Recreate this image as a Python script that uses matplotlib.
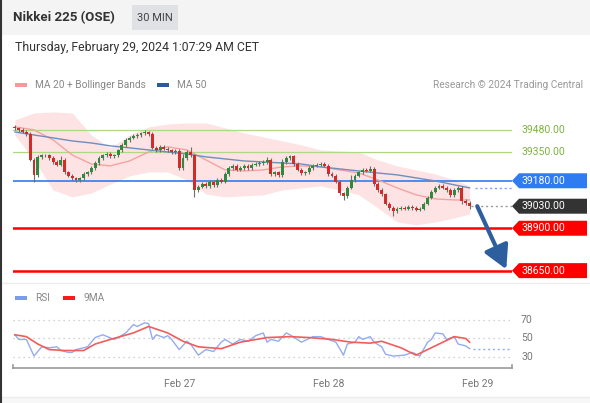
import matplotlib
matplotlib.use("Agg")
import matplotlib.pyplot as plt
from matplotlib.patches import Rectangle, Polygon
import numpy as np

plt.rcParams["font.family"] = ["Roboto", "DejaVu Sans"]

# ── Data ───────────────────────────────────────────────────────────────────────
# 30-minute closes, one per candle (open = previous close)
closes = [
    39490, 39480, 39470, 39455, 39305, 39215, 39320, 39330, 39330, 39315,
    39290, 39275, 39305, 39230, 39210, 39195, 39185, 39195, 39220, 39230,
    39255, 39285, 39315, 39330, 39340, 39325, 39330, 39360, 39390, 39420,
    39435, 39445, 39450, 39460, 39465, 39455, 39375, 39360, 39380, 39370,
    39360, 39350, 39355, 39255, 39315, 39350, 39330, 39125, 39145, 39160,
    39150, 39175, 39155, 39185, 39175, 39220, 39255, 39270, 39245, 39255,
    39270, 39255, 39275, 39280, 39285, 39290, 39305, 39220, 39230, 39215,
    39290, 39315, 39325, 39280, 39245, 39225, 39230, 39255, 39270, 39275,
    39280, 39270, 39220, 39210, 39175, 39105, 39090, 39140, 39185, 39210,
    39230, 39245, 39240, 39250, 39160, 39125, 39100, 39045, 39020, 39000,
    39015, 39020, 39015, 39025, 39020, 39010, 39015, 39045, 39080, 39115,
    39140, 39150, 39140, 39125, 39095, 39125, 39140, 39060, 39050, 39030,
]
first_open = 39500
up_wick = [
    10, 10, 10, 10, 10, 10, 15, 10, 10, 10,
    10, 10, 20, 10, 10, 10, 10, 10, 10, 10,
    10, 10, 10, 10, 10, 10, 10, 10, 15, 10,
    10, 10, 10, 10, 15, 10, 10, 10, 10, 10,
    10, 10, 10, 10, 25, 10, 30, 10, 10, 10,
    10, 10, 10, 10, 10, 10, 10, 10, 10, 10,
    10, 10, 10, 10, 10, 10, 15, 10, 10, 10,
    20, 10, 10, 10, 10, 10, 10, 10, 10, 10,
    10, 10, 10, 10, 10, 10, 10, 10, 30, 10,
    10, 10, 10, 20, 10, 10, 10, 10, 10, 10,
    10, 10, 10, 10, 10, 10, 10, 10, 10, 10,
    10, 10, 10, 10, 10, 10, 10, 10, 10, 10,
]
dn_wick = [
    10, 10, 10, 10, 10, 40, 10, 10, 10, 10,
    10, 10, 10, 10, 10, 10, 15, 10, 10, 10,
    10, 10, 10, 10, 10, 10, 10, 10, 10, 10,
    10, 10, 10, 10, 10, 10, 10, 10, 10, 10,
    10, 10, 10, 10, 10, 10, 10, 40, 10, 10,
    10, 10, 10, 10, 10, 10, 10, 10, 10, 10,
    10, 10, 10, 10, 10, 10, 10, 10, 10, 10,
    10, 10, 10, 10, 10, 10, 10, 10, 10, 10,
    10, 10, 10, 10, 10, 10, 25, 10, 10, 10,
    10, 10, 10, 10, 10, 10, 10, 10, 10, 25,
    10, 10, 10, 10, 10, 10, 10, 10, 10, 10,
    10, 10, 10, 10, 10, 10, 10, 15, 15, 15,
]

# indicator readings, sampled every 5 candles
ind_idx = [0, 5, 10, 15, 20, 25, 30, 35, 40, 45, 50, 55, 60, 65, 70, 75, 80,
           85, 90, 95, 100, 105, 110, 115, 119]
ma50 = [39468, 39450, 39433, 39415, 39403, 39386, 39374, 39362, 39350, 39338,
        39321, 39309, 39297, 39291, 39285, 39279, 39262, 39250, 39238, 39226,
        39215, 39197, 39179, 39156, 39138]
ma20 = [39498, 39480, 39421, 39332, 39279, 39268, 39297, 39350, 39380, 39362,
        39303, 39244, 39238, 39244, 39262, 39268, 39262, 39244, 39226, 39185,
        39138, 39097, 39073, 39067, 39067]
bb_upper = [39539, 39580, 39586, 39580, 39450, 39374, 39450, 39498, 39515, 39521,
            39521, 39492, 39462, 39439, 39415, 39391, 39362, 39356, 39350, 39303,
            39268, 39244, 39220, 39185, 39150]
bb_lower = [39450, 39303, 39126, 39085, 39108, 39161, 39209, 39232, 39232, 39185,
            39102, 39085, 39091, 39097, 39126, 39138, 39150, 39126, 39097, 39020,
            38937, 38920, 38937, 38961, 38984]

# key levels
res_levels = [39480, 39350]
pivot = 39180
last_price = 39030
sup_levels = [38900, 38650]

# RSI readings
rsi_idx = [0, 1, 3, 5, 7, 9, 11, 12, 14, 15, 16, 19, 21, 23, 26, 27, 29, 31, 32,
           34, 35, 36, 37, 39, 40, 41, 43, 45, 46, 48, 50, 52, 54, 55, 57, 59,
           61, 63, 65, 66, 67, 69, 71, 72, 75, 78, 80, 82, 84, 86, 87, 89, 90,
           91, 93, 94, 96, 97, 99, 102, 104, 106, 108, 109, 110, 112, 113, 115,
           116, 118, 119]
rsi = [54, 49, 49, 31, 41, 40, 41, 37, 35, 35, 38, 41, 51, 54, 49, 51, 56, 65, 63,
       67, 66, 49, 54, 51, 53, 49, 38, 47, 44, 32, 38, 36, 46, 49, 44, 49,
       47, 53, 56, 46, 49, 47, 56, 54, 46, 52, 52, 49, 46, 32, 44, 46, 52,
       49, 52, 46, 41, 33, 31, 32, 35, 31, 46, 49, 56, 55, 49, 52,
       44, 42, 39]
ma9_idx = [0, 3, 6, 9, 13, 18, 21, 25, 31, 35, 40, 44, 48, 54, 59, 66, 72, 77,
           83, 88, 93, 96, 101, 105, 109, 115, 118, 119]
ma9 = [54, 52, 44, 38, 37, 37, 44, 49, 56, 63, 56, 47, 41, 39, 46, 51, 52, 51,
       49, 46, 45, 47, 40, 32, 40, 52, 50, 46]
rsi_levels = [70, 50, 30]

tick_pos = [43, 82, 121]
tick_labels = ["Feb 27", "Feb 28", "Feb 29"]

# ── Figure ─────────────────────────────────────────────────────────────────────
W, H = 590, 403
fig = plt.figure(figsize=(W / 100, H / 100), dpi=100)
fig.patch.set_facecolor("white")

def px_axes(x0, y0, x1, y1, **kw):
    """Axes from pixel box (top-left origin)."""
    return fig.add_axes([x0 / W, 1 - y1 / H, (x1 - x0) / W, (y1 - y0) / H], **kw)

# overlay in pixel coords for chrome
ov = fig.add_axes([0, 0, 1, 1], zorder=0)
ov.set_xlim(0, W)
ov.set_ylim(H, 0)
ov.axis("off")

ov.add_patch(Rectangle((0, 0), W, 35, color="#f4f4f4", lw=0))
ov.add_patch(Rectangle((132, 5), 46, 25, color="#dfe1e4", lw=0))
ov.text(13, 18, "Nikkei 225 (OSE)", fontsize=9.5, fontweight="bold", color="#333333", va="center")
ov.text(155, 18, "30 MIN", fontsize=8, color="#444444", va="center", ha="center")
ov.text(15, 47, "Thursday, February 29, 2024 1:07:29 AM CET", fontsize=8.8, color="#333333", va="center")

ov.add_patch(Rectangle((15, 83), 12, 4, color="#f59a9a", lw=0))
ov.text(35, 85, "MA 20 + Bollinger Bands", fontsize=7.3, color="#888888", va="center")
ov.add_patch(Rectangle((157, 83), 12, 4, color="#2c5a9c", lw=0))
ov.text(177, 85, "MA 50", fontsize=7.3, color="#888888", va="center")
ov.text(583, 85, "Research © 2024 Trading Central", fontsize=7.3, color="#999999", va="center", ha="right")

ov.add_patch(Rectangle((15, 296), 12, 4, color="#7c9cec", lw=0))
ov.text(35, 298, "RSI", fontsize=7.3, color="#888888", va="center")
ov.add_patch(Rectangle((63, 296), 12, 4, color="#ff1a1a", lw=0))
ov.text(83, 298, "9MA", fontsize=7.3, color="#888888", va="center")

ov.plot([2, W], [283, 283], color="#ececec", lw=1)
ov.plot([2, W], [397, 397], color="#ececec", lw=1)
ov.add_patch(Rectangle((2, 397.5), W, 6, color="#f7f7f7", lw=0))
ov.plot([1, 1], [0, H], color="#333333", lw=1.5)

# ── Price panel ────────────────────────────────────────────────────────────────
ax = px_axes(13, 105, 512, 283, zorder=1)
ax.set_facecolor("none")
for s in ax.spines.values():
    s.set_visible(False)
ax.set_xticks([])
ax.set_yticks([])
ax.set_xlim(-0.5, 130.1)
ax.set_ylim(38577, 39627)

ax.fill_between(ind_idx, bb_lower, bb_upper, color="#fde3e3", lw=0, zorder=1)
ax.plot(ind_idx, ma20, color="#f4a3a3", lw=1, zorder=2)
ax.plot(ind_idx, ma50, color="#6f8dbf", lw=1, zorder=2)

for lv in res_levels:
    ax.axhline(lv, color="#aed884", lw=0.9, zorder=1.5)
ax.axhline(pivot, color="#2f7bf2", lw=1.2, zorder=1.5)
for lv in sup_levels:
    ax.axhline(lv, color="#ff0000", lw=1.8, zorder=1.5)

opens = [first_open] + closes[:-1]
for i, (o, c) in enumerate(zip(opens, closes)):
    hi = max(o, c) + up_wick[i]
    lo = min(o, c) - dn_wick[i]
    col = "#2e8b3e" if c >= o else "#d32a2a"
    ax.vlines(i, lo, hi, color="#6e6e6e", lw=0.8, zorder=3)
    body = max(abs(c - o), 4)
    ax.add_patch(Rectangle((i - 0.38, min(o, c)), 0.76, body, color=col, lw=0, zorder=4))

xr = ax.get_xlim()[1]
ax.hlines(closes[-1], len(closes) - 0.5, xr, colors="#999999", lw=1, linestyles=(0, (1.5, 2)), zorder=2)
ax.hlines(ma50[-1], len(closes) + 0.5, xr, colors="#7c9cec", lw=1, linestyles=(0, (1.5, 2)), zorder=2)

ax.annotate("", xy=(128.6, sup_levels[1] + 8), xytext=(121.0, closes[-1]),
            arrowprops=dict(arrowstyle="-|>,head_width=0.55,head_length=1.0",
                            color="#2d5e9e", lw=3, shrinkA=0, shrinkB=0,
                            mutation_scale=14), zorder=6)

# price labels and tags
fig.canvas.draw()

def to_px(p):
    disp = ax.transData.transform((0, p))
    return ov.transData.inverted().transform(disp)[1]

for lv in res_levels:
    ov.text(522, to_px(lv), f"{lv:.2f}", fontsize=7.5, color="#7cb342", va="center")

def tag(p, color):
    y = to_px(p)
    ov.add_patch(Polygon([(512, y), (519, y - 7.5), (587, y - 7.5), (587, y + 7.5), (519, y + 7.5)],
                         closed=True, color=color, lw=0))
    ov.text(522, y, f"{p:.2f}", fontsize=7.5, color="white", va="center")

tag(pivot, "#2f7bf2")
tag(last_price, "#333333")
for lv in sup_levels:
    tag(lv, "#ff0000")

# ── RSI panel ──────────────────────────────────────────────────────────────────
rx = px_axes(13, 305, 512, 368, zorder=1)
rx.set_facecolor("none")
rx.set_xlim(-0.5, 130.1)
rx.set_ylim(18.1, 86.2)
for k in ["top", "right", "left"]:
    rx.spines[k].set_visible(False)
rx.spines["bottom"].set_color("#999999")
rx.spines["bottom"].set_linewidth(1.2)
rx.set_yticks([])
rx.set_xticks(tick_pos)
rx.set_xticklabels(tick_labels, fontsize=7.5, color="#777777")
rx.tick_params(axis="x", length=0, pad=8)
rx.plot([-0.5, -0.5], [18.1, 21.5], color="#999999", lw=1.2, clip_on=False)
rx.plot([130.1, 130.1], [18.1, 21.5], color="#999999", lw=1.2, clip_on=False)

for lv in rsi_levels:
    rx.axhline(lv, xmax=0.995, color="#c4c4c4", lw=0.9, linestyle=(0, (1, 3)))
    ov.text(521, ov.transData.inverted().transform(rx.transData.transform((0, lv)))[1],
            str(lv), fontsize=7.5, color="#777777", va="center")

rx.plot(rsi_idx, rsi, color="#93acf0", lw=1)
rx.plot(ma9_idx, ma9, color="#f25c5c", lw=1.2)
rx.hlines(rsi[-1], rsi_idx[-1] + 1, 130.1, colors="#93acf0", lw=1, linestyles=(0, (1.5, 2)))

fig.savefig("out.png", dpi=100)
